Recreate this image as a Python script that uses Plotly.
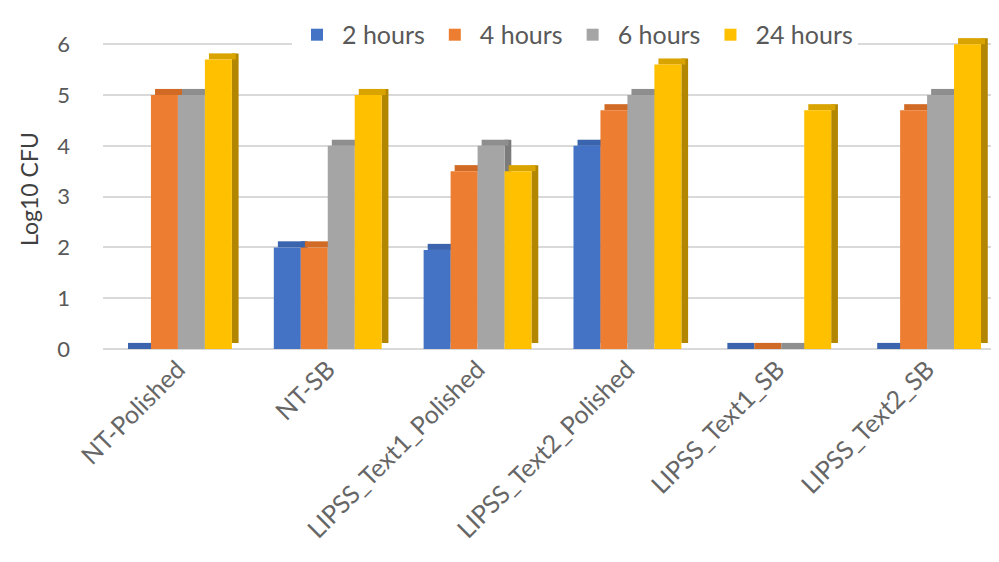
import plotly.graph_objects as go

categories = ["NT-Polished", "NT-SB", "LIPSS_Text1_Polished",
              "LIPSS_Text2_Polished", "LIPSS_Text1_SB", "LIPSS_Text2_SB"]
series_names = ["2 hours", "4 hours", "6 hours", "24 hours"]
h2 = [0, 2, 1.95, 4, 0, 0]
h4 = [5, 2, 3.5, 4.7, 0, 4.7]
h6 = [5, 4, 4, 5, 0, 5]
h24 = [5.7, 5, 3.5, 5.6, 4.7, 6]
series_values = [h2, h4, h6, h24]

front_colors = ["#4472C4", "#ED7D31", "#A5A5A5", "#FFC000"]
side_colors = ["#2F5597", "#B35A1F", "#7B7B7B", "#B38600"]
top_colors = ["#3A64AE", "#D06A25", "#8E8E8E", "#D9A300"]

xs = list(range(len(categories)))
bar_w = 0.18
depth = 0.12   # fake 3D depth in y units
side_w = 0.045

fig = go.Figure()
for i, (name, vals) in enumerate(zip(series_names, series_values)):
    off = -0.36 + i * bar_w
    # side face
    fig.add_trace(go.Bar(x=xs, y=vals, base=[depth] * len(vals), offset=off + bar_w,
                         width=side_w, marker=dict(color=side_colors[i], line=dict(width=0)),
                         showlegend=False, hoverinfo="skip"))
    # top face
    fig.add_trace(go.Bar(x=xs, y=[depth] * len(vals), base=vals, offset=off + side_w * 0.6,
                         width=bar_w, marker=dict(color=top_colors[i], line=dict(width=0)),
                         showlegend=False, hoverinfo="skip"))
    # front face
    fig.add_trace(go.Bar(x=xs, y=vals, name=name, offset=off, width=bar_w,
                         marker=dict(color=front_colors[i], line=dict(width=0))))

fig.update_layout(
    barmode="overlay",
    width=999, height=562,
    paper_bgcolor="white", plot_bgcolor="white",
    font=dict(family="Lato, Open Sans, sans-serif", color="#595959", size=20),
    margin=dict(l=95, r=5, t=20, b=221),
    legend=dict(orientation="h", x=0.525, xanchor="center", y=1.05, yanchor="top",
                font=dict(size=25, color="#595959"), bgcolor="white",
                traceorder="normal", itemwidth=40),
    xaxis=dict(tickvals=xs, ticktext=categories, tickangle=-45, range=[-0.5, 5.5],
               showgrid=False, zeroline=False, showline=False, ticks="",
               tickfont=dict(size=25, color="#666666")),
    yaxis=dict(range=[0, 6.3], tickvals=[0, 1, 2, 3, 4, 5, 6], showgrid=True,
               gridcolor="#D9D9D9", gridwidth=1.5, zeroline=True, zerolinecolor="#D9D9D9",
               zerolinewidth=1.5, ticks="", ticklabelstandoff=32,
               tickfont=dict(size=22, color="#595959"),
               title=dict(text="Log10 CFU", font=dict(size=23, color="#404040"), standoff=12)),
)

fig.write_html("out.html")
